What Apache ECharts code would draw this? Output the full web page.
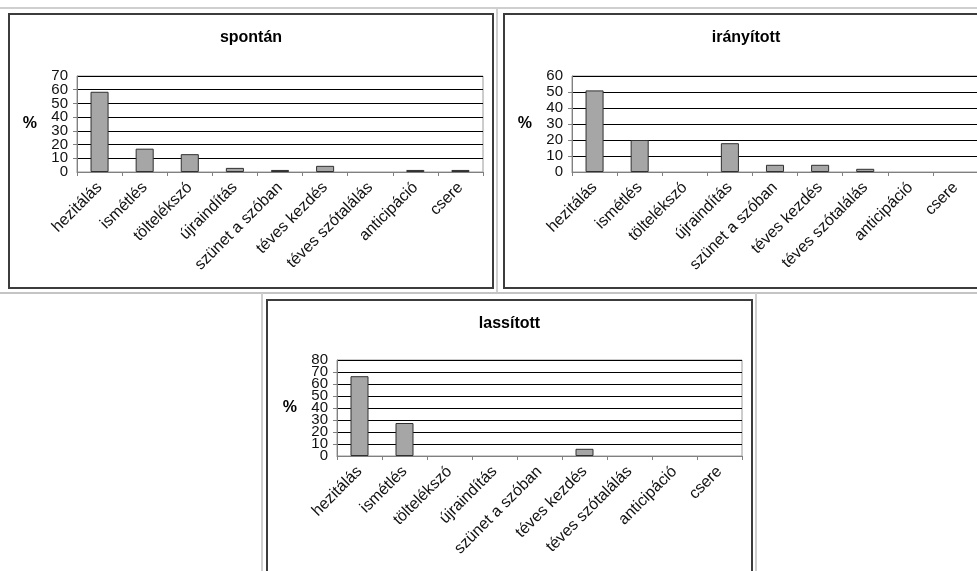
<!DOCTYPE html>
<html>
<head>
<meta charset="utf-8">
<script src="https://cdn.jsdelivr.net/npm/echarts@6/dist/echarts.min.js"></script>
<style>
  html, body { margin: 0; padding: 0; background: #fff; width: 977px; height: 571px; overflow: hidden; position: relative; }
  .box { position: absolute; box-sizing: border-box; border: 2px solid #3c3c3c; background: #fff; }
  .chart { width: 100%; height: 100%; }
  .sep { position: absolute; background: #cfcfcf; }
</style>
</head>
<body>
<!-- page separators -->
<div class="sep" style="left:0;top:7px;width:977px;height:2px;"></div>
<div class="sep" style="left:496px;top:8px;width:2px;height:286px;"></div>
<div class="sep" style="left:0;top:292px;width:977px;height:2px;background:#c4c4c4;"></div>
<div class="sep" style="left:261px;top:293px;width:2px;height:278px;"></div>
<div class="sep" style="left:755px;top:293px;width:2px;height:278px;"></div>

<div class="box" style="left:8px;top:13px;width:486px;height:276px;"><div id="c1" class="chart"></div></div>
<div class="box" style="left:503px;top:13px;width:486px;height:276px;"><div id="c2" class="chart"></div></div>
<div class="box" style="left:266px;top:299px;width:487px;height:300px;"><div id="c3" class="chart"></div></div>

<script>
// categories
const categories = ['hezitálás', 'ismétlés', 'töltelékszó', 'újraindítás', 'szünet a szóban',
  'téves kezdés', 'téves szótalálás', 'anticipáció', 'csere'];

// series values (%)
const spontan    = [58.5, 17, 13, 3, 1.5, 4.5, 0, 1.5, 1.5];
const iranyitott = [51, 20, 0, 18, 4.5, 4.5, 2, 0, 0];
const lassitott  = [66.5, 27.5, 0, 0, 0, 6, 0, 0, 0];

// y axis ranges
const yMax = { spontan: 70, iranyitott: 60, lassitott: 80 };

const labelFont = '"Liberation Sans", Arial, sans-serif';
const tickLabel = { margin: 9, fontFamily: labelFont, fontSize: 15, color: '#111' };

function makeChart(id, title, values, max, gridLeft, gridTop) {
  const chart = echarts.init(document.getElementById(id), null, { renderer: 'canvas' });
  chart.setOption({
    animation: false,
    backgroundColor: '#fff',
    title: {
      text: title,
      left: 'center',
      top: 10,
      textStyle: { fontFamily: labelFont, fontSize: 16, fontWeight: 'bold', color: '#000' }
    },
    grid: {
      left: gridLeft, right: 9, top: gridTop, height: 96,
      show: true, borderColor: '#9a9a9a', borderWidth: 1, backgroundColor: '#fff'
    },
    xAxis: {
      type: 'category',
      data: categories,
      boundaryGap: true,
      axisLine: { lineStyle: { color: '#808080', width: 1 } },
      axisTick: { show: true, length: 4, lineStyle: { color: '#808080' } },
      axisLabel: {
        interval: 0, rotate: 45, margin: 13, hideOverlap: false,
        fontFamily: labelFont, fontSize: 16, color: '#111'
      },
      splitLine: { show: false }
    },
    yAxis: [{
      // main axis: inner tick labels (min/max handled by the second axis)
      type: 'value',
      min: 0, max: max, interval: 10,
      name: '%',
      nameLocation: 'middle',
      nameRotate: 0,
      nameGap: 40,
      nameTextStyle: { fontFamily: labelFont, fontSize: 16, fontWeight: 'bold', color: '#000' },
      axisLine: { show: true, lineStyle: { color: '#808080' } },
      axisTick: { show: true, length: 4, lineStyle: { color: '#808080' } },
      axisLabel: Object.assign({ showMinLabel: false, showMaxLabel: false }, tickLabel),
      splitLine: { show: true, lineStyle: { color: '#000', width: 1 } }
    }, {
      // overlay axis: only the 0 and max labels
      type: 'value',
      position: 'left',
      min: 0, max: max, interval: 10,
      axisLine: { show: false },
      axisTick: { show: false },
      splitLine: { show: false },
      axisLabel: Object.assign({
        showMinLabel: true, showMaxLabel: true,
        formatter: v => (v === 0 || v === max ? String(v) : '')
      }, tickLabel)
    }],
    series: [{
      type: 'bar',
      yAxisIndex: 0,
      data: values.map(v => (v === 0 ? '-' : v)),
      barCategoryGap: '60%',
      itemStyle: { color: '#a6a6a6', borderColor: '#303030', borderWidth: 1 }
    }]
  });
  return chart;
}

makeChart('c1', 'spontán', spontan, yMax.spontan, 67, 61);
makeChart('c2', 'irányított', iranyitott, yMax.iranyitott, 67, 61);
makeChart('c3', 'lassított', lassitott, yMax.lassitott, 69, 59);
</script>
</body>
</html>
